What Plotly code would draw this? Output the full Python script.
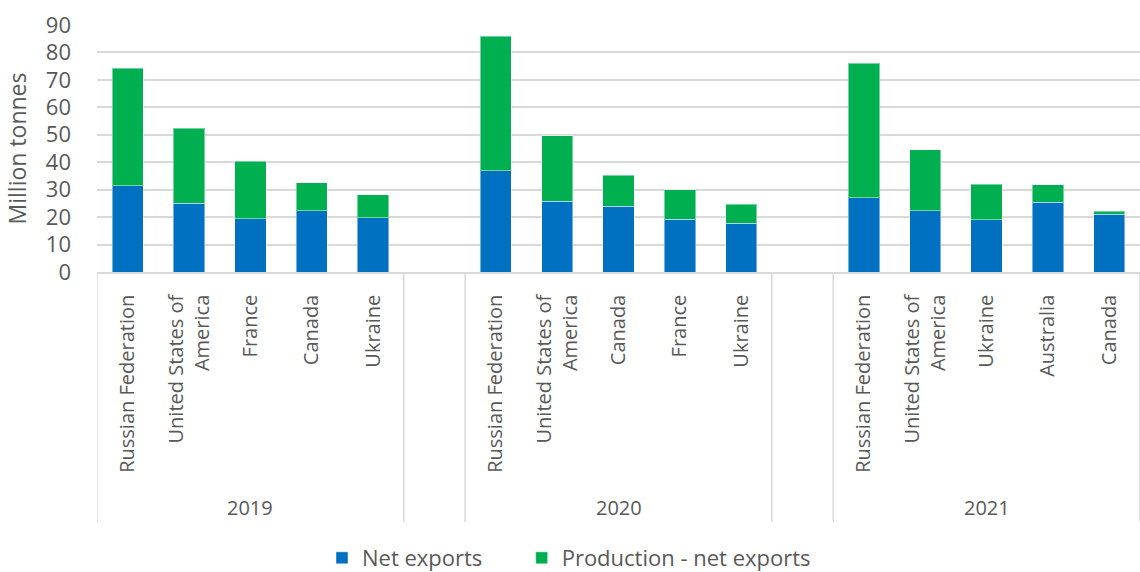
import plotly.graph_objects as go

years = ["2019", "2020", "2021"]
countries = [
    ["Russian Federation", "United States of America", "France", "Canada", "Ukraine"],
    ["Russian Federation", "United States of America", "Canada", "France", "Ukraine"],
    ["Russian Federation", "United States of America", "Ukraine", "Australia", "Canada"],
]
net_exports = [
    [31.5, 25.1, 19.4, 22.4, 19.8],
    [36.9, 25.8, 24.0, 19.3, 17.8],
    [27.0, 22.3, 19.1, 25.5, 21.0],
]
production = [
    [74.3, 52.4, 40.4, 32.5, 28.1],
    [85.9, 49.6, 35.3, 30.0, 24.7],
    [76.1, 44.6, 32.0, 31.8, 22.1],
]
series_names = ["Net exports", "Production - net exports"]
tick_label_map = {"United States of America": "United States of<br>America"}

BLUE = "#0070C0"
GREEN = "#00B050"
TEXT = "#595959"
GRID = "#D9D9D9"
FONT = "Open Sans"

slot = len(countries[0]) + 1  # one empty slot between year groups
xs, blue, green, ticktext = [], [], [], []
for g, yr in enumerate(years):
    for i, c in enumerate(countries[g]):
        xs.append(g * slot + i)
        blue.append(net_exports[g][i])
        green.append(round(production[g][i] - net_exports[g][i], 2))
        ticktext.append(tick_label_map.get(c, c))

n_slots = len(years) * slot - 1
pad = "\u00a0" * 6  # extra room between legend entries

fig = go.Figure()
fig.add_trace(go.Bar(x=xs, y=blue, name=series_names[0] + pad, marker_color=BLUE,
                     marker_line=dict(color="rgba(255,255,255,0.45)", width=1)))
fig.add_trace(go.Bar(x=xs, y=green, name=series_names[1], marker_color=GREEN,
                     marker_line=dict(color="rgba(255,255,255,0.45)", width=1)))

plot_left, plot_right = 97, 1140
plot_top, plot_bottom = 25, 272
plot_h = plot_bottom - plot_top
plot_w = plot_right - plot_left

def py(pix):
    return -(pix - plot_bottom) / plot_h

def px(pix):
    return (pix - plot_left) / plot_w

# group dividers and year labels
bounds = []
for g in range(len(years)):
    start = g * slot - 0.5
    end = g * slot + len(countries[g]) - 0.5
    bounds += [start, end]
    fig.add_annotation(x=(start + end) / 2, y=py(507), xref="x", yref="paper",
                       text=years[g], showarrow=False, yanchor="middle",
                       font=dict(family=FONT, size=20, color=TEXT))
for b in bounds:
    fig.add_shape(type="line", xref="x", yref="paper", x0=b, x1=b, y0=0, y1=py(522),
                  line=dict(color=GRID, width=1.5))

fig.update_layout(
    barmode="stack",
    bargap=0.49,
    width=1140, height=572,
    margin=dict(l=plot_left, r=1140 - plot_right, t=plot_top, b=572 - plot_bottom,
                autoexpand=False),
    plot_bgcolor="white", paper_bgcolor="white",
    font=dict(family=FONT, color=TEXT),
    legend=dict(orientation="h", yanchor="middle", y=py(558), xanchor="left", x=px(322),
                font=dict(family=FONT, size=22, color=TEXT), bgcolor="rgba(0,0,0,0)",
                traceorder="normal"),
    xaxis=dict(range=[-0.5, n_slots - 0.5], tickmode="array", tickvals=xs, ticktext=ticktext,
               tickangle=-90, showgrid=False, zeroline=False, showline=True,
               linecolor=GRID, linewidth=1.5, ticks="", ticklabelstandoff=13,
               tickfont=dict(family=FONT, size=20, color=TEXT)),
    yaxis=dict(range=[0, 90], dtick=10, showgrid=True, gridcolor=GRID, gridwidth=1.5,
               zeroline=False, showline=False, ticks="", ticklabelstandoff=25,
               tickfont=dict(family=FONT, size=22, color=TEXT),
               title=dict(text="Million tonnes", standoff=12,
                          font=dict(family=FONT, size=23, color=TEXT))),
)

fig.write_html("out.html")
